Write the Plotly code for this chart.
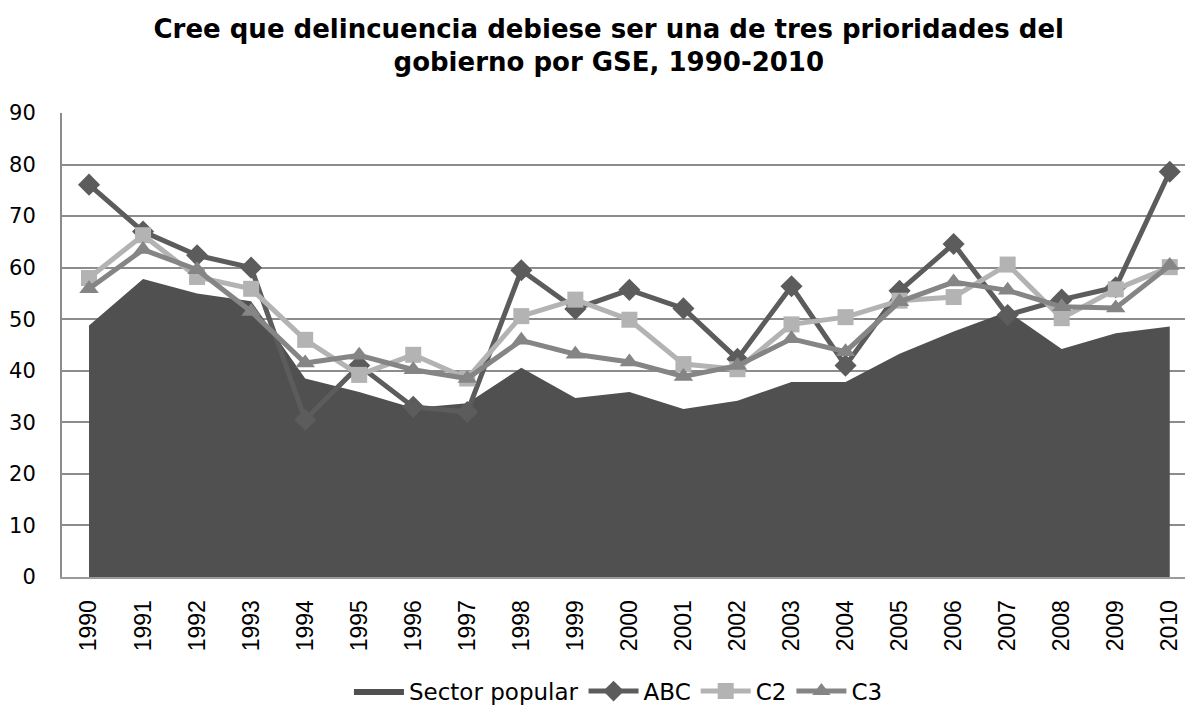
import plotly.graph_objects as go

years = [str(y) for y in range(1990, 2011)]
sector_popular = [48.8, 57.8, 55.0, 53.5, 38.5, 35.9, 32.8, 33.7, 40.6, 34.7, 35.9,
                  32.6, 34.2, 37.8, 37.8, 43.3, 47.6, 51.5, 44.2, 47.3, 48.6]
abc = [76.1, 67.0, 62.4, 60.0, 30.5, 41.0, 33.0, 32.0, 59.5, 52.0, 55.7,
       52.1, 42.3, 56.4, 41.0, 55.5, 64.6, 50.8, 53.8, 56.2, 78.6]
c2 = [58.0, 66.3, 58.2, 55.9, 46.0, 39.2, 43.1, 38.5, 50.6, 53.8, 49.9,
      41.3, 40.3, 49.0, 50.4, 53.6, 54.3, 60.6, 50.2, 55.8, 60.1]
c3 = [55.9, 63.5, 59.6, 51.5, 41.5, 43.0, 40.2, 38.5, 45.9, 43.2, 41.7,
      38.9, 41.0, 46.2, 43.7, 53.4, 57.2, 55.6, 52.4, 52.2, 60.4]

xi = list(range(len(years)))

fig = go.Figure()
fig.add_trace(go.Scatter(x=xi, y=sector_popular, name="Sector popular", mode="lines",
                         line=dict(width=0, color="#505050"), fill="tozeroy",
                         fillcolor="#505050"))
fig.add_trace(go.Scatter(x=xi, y=abc, name="ABC", mode="lines+markers",
                         line=dict(width=5, color="#5c5c5c"),
                         marker=dict(symbol="diamond", size=17, color="#5c5c5c")))
fig.add_trace(go.Scatter(x=xi, y=c2, name="C2", mode="lines+markers",
                         line=dict(width=5, color="#b3b3b3"),
                         marker=dict(symbol="square", size=16, color="#b3b3b3")))
fig.add_trace(go.Scatter(x=xi, y=c3, name="C3", mode="lines+markers",
                         line=dict(width=5, color="#858585"),
                         marker=dict(symbol="triangle-up", size=17, color="#858585")))

fig.update_layout(
    width=1185, height=705,
    margin=dict(l=54, r=0, t=105, b=127),
    paper_bgcolor="white", plot_bgcolor="white",
    title=dict(text="<b>Cree que delincuencia debiese ser una de tres prioridades del<br>gobierno por GSE, 1990-2010</b>",
               x=0.507, xanchor="center", y=0.958, yanchor="top",
               font=dict(family="DejaVu Sans", size=26, color="black")),
    showlegend=True,
    legend=dict(orientation="h", x=0.492, xanchor="center", y=-0.246, yanchor="middle",
                font=dict(family="DejaVu Sans", size=23, color="black"),
                itemwidth=50, tracegroupgap=0),
)
fig.update_xaxes(
    tickmode="array", tickvals=xi, ticktext=years, tickangle=-90,
    range=[-0.5, 20.43], showgrid=False, showline=True, linecolor="#9a9a9a", linewidth=2,
    tickfont=dict(family="Liberation Sans", size=23, color="black"), ticks="",
    ticklabelstandoff=12, zeroline=False,
)
fig.update_yaxes(
    range=[0, 90], dtick=10, showgrid=True, gridcolor="#8c8c8c", gridwidth=2,
    showline=True, linecolor="#8c8c8c", linewidth=2, ticks="", zeroline=False,
    ticklabelstandoff=20,
    tickfont=dict(family="DejaVu Sans", size=21, color="black"),
)

fig.write_html("out.html")
